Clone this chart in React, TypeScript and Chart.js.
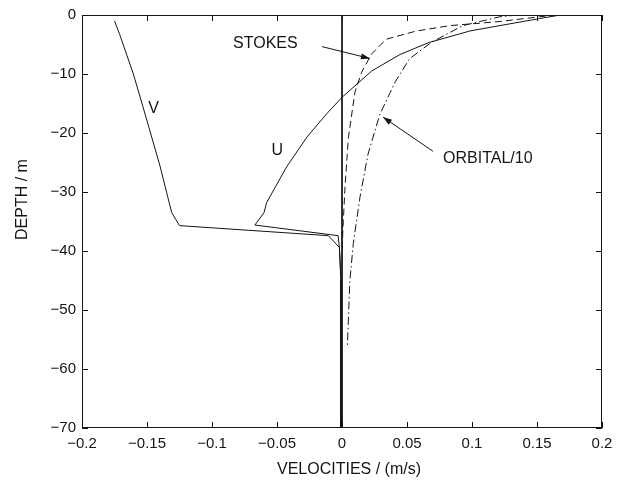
import React, { useEffect, useRef } from "react";
import { Chart, registerables } from "chart.js";

Chart.register(...registerables);

// ---- data (velocity m/s, depth m) ----
const V_X = [-0.175, -0.171, -0.1605, -0.1508, -0.140, -0.131, -0.125, -0.0105, -0.002, -0.0008, -0.0008];
const V_Y = [-1.0, -3.3, -10.0, -17.3, -25.6, -33.5, -35.7, -37.4, -39.4, -45, -70];

const U_X = [0.168, 0.152, 0.0985, 0.0664, 0.0446, 0.0228, 0, -0.0118, -0.027, -0.0425, -0.058, -0.06, -0.067, -0.003, -0.002, -0.0008, -0.0008];
const U_Y = [0, -0.6, -2.7, -4.7, -6.7, -9.5, -13.95, -16.75, -20.7, -25.7, -31.8, -33.5, -35.6, -37.4, -39.4, -45, -70];

const STOKES_X = [0.165, 0.152, 0.1215, 0.083, 0.0575, 0.034, 0.0228, 0.0151, 0.01, 0.0049, 0.0023, 0.001, 0];
const STOKES_Y = [0, -0.3, -1.1, -1.8, -2.7, -4.1, -6.6, -9.7, -13.0, -20.8, -29.2, -35.0, -40.0];

const ORBITAL_X = [0.135, 0.1215, 0.093, 0.069, 0.052, 0.041, 0.029, 0.020, 0.0138, 0.0087, 0.006, 0.0041];
const ORBITAL_Y = [0, -0.3, -1.8, -4.6, -7.4, -11.3, -16.9, -23.6, -30.9, -38.7, -45.2, -56.4];

const ZERO_X = [0, 0];
const ZERO_Y = [0, -70];

const X_TICKS = [-0.2, -0.15, -0.1, -0.05, 0, 0.05, 0.1, 0.15, 0.2];
const Y_TICKS = [0, -10, -20, -30, -40, -50, -60, -70];

// annotations in data coordinates
const TEXT_LABELS = [
  { text: "STOKES", x: -0.0838, y: -4.86, align: "left" },
  { text: "ORBITAL/10", x: 0.0777, y: -24.3, align: "left" },
  { text: "V", x: -0.145, y: -15.9, align: "center" },
  { text: "U", x: -0.0497, y: -22.9, align: "center" },
];
const ARROWS = [
  { x1: -0.0154, y1: -5.36, x2: 0.0215, y2: -7.37 },
  { x1: 0.07, y1: -23.1, x2: 0.0315, y2: -17.3 },
];

const FONT = '"Liberation Sans", Arial, Helvetica, sans-serif';
const INK = "#141414";

function pts(xs: number[], ys: number[]) {
  return xs.map((x, i) => ({ x, y: ys[i] }));
}

function fmt(v: number) {
  const r = parseFloat(v.toFixed(2));
  if (r === 0) return "0";
  return r < 0 ? "\u2212" + String(Math.abs(r)) : String(r);
}

const framePlugin = {
  id: "frame",
  afterDraw(chart: any) {
    const { ctx, chartArea: a, scales } = chart;
    const xs = scales.x;
    const ys = scales.y;
    ctx.save();
    ctx.strokeStyle = INK;
    ctx.lineWidth = 1;
    ctx.setLineDash([]);
    ctx.strokeRect(a.left + 0.5, a.top + 0.5, a.right - a.left - 1, a.bottom - a.top - 1);
    const tl = 6;
    ctx.beginPath();
    X_TICKS.forEach((t) => {
      const px = Math.round(xs.getPixelForValue(t)) + 0.5;
      ctx.moveTo(px, a.bottom);
      ctx.lineTo(px, a.bottom - tl);
      ctx.moveTo(px, a.top);
      ctx.lineTo(px, a.top + tl);
    });
    Y_TICKS.forEach((t) => {
      const py = Math.round(ys.getPixelForValue(t)) + 0.5;
      ctx.moveTo(a.left, py);
      ctx.lineTo(a.left + tl, py);
      ctx.moveTo(a.right, py);
      ctx.lineTo(a.right - tl, py);
    });
    ctx.stroke();

    // annotations
    ctx.fillStyle = INK;
    ctx.font = "16px " + FONT;
    ctx.textBaseline = "middle";
    TEXT_LABELS.forEach((l) => {
      ctx.textAlign = l.align as CanvasTextAlign;
      ctx.fillText(l.text, xs.getPixelForValue(l.x), ys.getPixelForValue(l.y));
    });
    ARROWS.forEach((ar) => {
      const x1 = xs.getPixelForValue(ar.x1);
      const y1 = ys.getPixelForValue(ar.y1);
      const x2 = xs.getPixelForValue(ar.x2);
      const y2 = ys.getPixelForValue(ar.y2);
      ctx.beginPath();
      ctx.moveTo(x1, y1);
      ctx.lineTo(x2, y2);
      ctx.stroke();
      const ang = Math.atan2(y2 - y1, x2 - x1);
      const L = 9;
      const W = 3;
      ctx.beginPath();
      ctx.moveTo(x2, y2);
      ctx.lineTo(x2 - L * Math.cos(ang) + W * Math.sin(ang), y2 - L * Math.sin(ang) - W * Math.cos(ang));
      ctx.lineTo(x2 - L * Math.cos(ang) - W * Math.sin(ang), y2 - L * Math.sin(ang) + W * Math.cos(ang));
      ctx.closePath();
      ctx.fill();
    });

    // axis titles
    ctx.font = "16px " + FONT;
    ctx.textAlign = "center";
    ctx.fillText("VELOCITIES / (m/s)", (a.left + a.right) / 2 + 7, 470);
    ctx.save();
    ctx.translate(23, (a.top + a.bottom) / 2 - 22);
    ctx.rotate(-Math.PI / 2);
    ctx.fillText("DEPTH / m", 0, 0);
    ctx.restore();
    ctx.restore();
  },
};

export default function App() {
  const ref = useRef<HTMLCanvasElement | null>(null);
  useEffect(() => {
    if (!ref.current) return;
    const line = (data: any, dash: number[]) => ({
      data,
      showLine: true,
      borderColor: INK,
      borderWidth: 1,
      borderDash: dash,
      pointRadius: 0,
      fill: false,
      tension: 0,
    });
    const chart = new Chart(ref.current, {
      type: "scatter",
      data: {
        datasets: [
          line(pts(ZERO_X, ZERO_Y), []),
          line(pts(V_X, V_Y), []),
          line(pts(U_X, U_Y), []),
          line(pts(STOKES_X, STOKES_Y), [7, 4]),
          line(pts(ORBITAL_X, ORBITAL_Y), [8, 3, 1.5, 3]),
        ],
      },
      options: {
        responsive: false,
        animation: false,
        layout: { padding: { top: 10, right: 20, left: 0, bottom: 0 } },
        plugins: { legend: { display: false }, tooltip: { enabled: false } },
        scales: {
          x: {
            type: "linear",
            min: -0.2,
            max: 0.2,
            afterBuildTicks: (s: any) => {
              s.ticks = X_TICKS.map((v) => ({ value: v }));
            },
            afterFit: (s: any) => {
              s.height = 54;
            },
            grid: { display: false, drawTicks: false },
            border: { display: false },
            ticks: {
              color: INK,
              font: { family: FONT, size: 15 },
              padding: 7,
              maxRotation: 0,
              autoSkip: false,
              callback: (v: any) => fmt(Number(v)),
            },
          },
          y: {
            type: "linear",
            min: -70,
            max: 0,
            afterBuildTicks: (s: any) => {
              s.ticks = Y_TICKS.map((v) => ({ value: v }));
            },
            afterFit: (s: any) => {
              s.width = 82;
            },
            grid: { display: false, drawTicks: false },
            border: { display: false },
            ticks: {
              color: INK,
              font: { family: FONT, size: 15 },
              padding: 6,
              autoSkip: false,
              callback: (v: any) => fmt(Number(v)),
            },
          },
        },
      },
      plugins: [framePlugin],
    } as any);
    return () => chart.destroy();
  }, []);
  return (
    <div style={{ position: "absolute", left: 0, top: 0, width: 622, height: 482, background: "#fff" }}>
      <canvas ref={ref} width={622} height={482} style={{ display: "block" }} />
    </div>
  );
}
